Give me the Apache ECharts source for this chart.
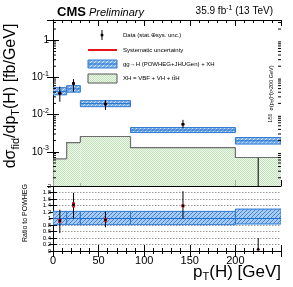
<!DOCTYPE html>
<html><head><meta charset="utf-8">
<script src="https://cdn.jsdelivr.net/npm/echarts@6/dist/echarts.min.js"></script>
<style>html,body{margin:0;padding:0;background:#fff}#c{width:293px;height:287px}</style>
</head><body><div id="c"></div>
<script>
// ---- data ----
const binEdges = [0, 15, 30, 85, 200, 250];
const dataX = [7.5, 22.5, 57.5, 142.5, 225];
const dataVal = [0.0373, 0.069, 0.0193, 0.0055, 0.0001];
const dataErrLo = [0.0222, 0.041, 0.0133, 0.0043, 0.000005];
const dataErrHi = [0.0564, 0.090, 0.0247, 0.0072, 0.00068];
const dataSysLo = [0.0345, 0.064, 0.0180, 0.0052, 0.00009];
const dataSysHi = [0.0405, 0.075, 0.0207, 0.0059, 0.00011];
const ggHCenter = [0.042, 0.049, 0.0197, 0.00384, 0.00197];
const ggHLo = [0.034, 0.040, 0.0163, 0.00329, 0.00161];
const ggHHi = [0.053, 0.060, 0.0237, 0.00448, 0.00241];
const xhVal = [0.00064, 0.00177, 0.00257, 0.0013, 0.0007];
const ratioVal = [0.93, 1.42, 0.96, 1.39, 0.05];
const ratioErrLo = [0.55, 1.0, 0.73, 1.0, 0.05];
const ratioErrHi = [1.27, 1.79, 1.21, 1.84, 0.40];
const ratioSysLo = [0.87, 1.34, 0.90, 1.34, 0.04];
const ratioSysHi = [0.99, 1.50, 1.02, 1.44, 0.06];
const ratioBandLo = [0.81, 0.81, 0.81, 0.81, 0.83];
const ratioBandHi = [1.22, 1.22, 1.22, 1.22, 1.29];
const upperTickLabels = {'0': '1', '-1': '-1', '-2': '-2', '-3': '-3'};
const xTickLabels = [0, 50, 100, 150, 200];
const ratioTickLabels = ['0', '0.2', '0.4', '0.6', '0.8', '1', '1.2', '1.4', '1.6', '1.8', '2'];

// ---- helpers ----
function makePattern(w, h, fn) {
  const c = document.createElement('canvas'); c.width = w; c.height = h;
  const ctx = c.getContext('2d');
  for (let x = 0; x < w; x++) for (let y = 0; y < h; y++) { ctx.fillStyle = fn(x, y); ctx.fillRect(x, y, 1, 1); }
  return {image: c, repeat: 'repeat'};
}
const bluePat = makePattern(4, 4, (x, y) => ((x + y) % 4 === 0 ? '#d2e4f8' : '#78ade9'));
const bluePat2 = makePattern(4, 4, (x, y) => ((x + y) % 4 === 0 ? '#3f86d8' : '#a9cbf1'));
const greenPat = makePattern(2, 2, (x, y) => ((x + y) % 2 === 0 ? '#c2e2ba' : '#eff8ed'));
const BLUE = '#2c78d4';
const FONT = 'Liberation Sans';

const minorLog = [];
for (let k = -4; k <= 0; k++) for (let m = 2; m <= 9; m++) { const v = m * Math.pow(10, k); if (v > 1.2e-4 && v < 3.5) minorLog.push([0, v]); }

const boxData = binEdges.slice(0, -1).map((e, i) => [e, binEdges[i + 1], ggHLo[i], ggHHi[i], ggHCenter[i]]);
const xhData = binEdges.slice(0, -1).map((e, i) => [e, binEdges[i + 1], xhVal[i], i > 0 ? xhVal[i - 1] : 1.2e-4]);
const ptData = dataX.map((x, i) => [x, dataVal[i], dataErrLo[i], dataErrHi[i], dataSysLo[i], dataSysHi[i]]);
const rBandData = binEdges.slice(0, -1).map((e, i) => [e, binEdges[i + 1], ratioBandLo[i], ratioBandHi[i], 1]);
const rPtData = dataX.map((x, i) => [x, ratioVal[i], ratioErrLo[i], ratioErrHi[i], ratioSysLo[i], ratioSysHi[i]]);

function boxItem(fillPat) {
  return function (params, api) {
    const a = api.coord([api.value(0), api.value(3)]);
    const b = api.coord([api.value(1), api.value(2)]);
    const c = api.coord([api.value(0), api.value(4)]);
    return {type: 'group', children: [
      {type: 'rect', shape: {x: a[0], y: a[1], width: b[0] - a[0], height: b[1] - a[1]}, style: {fill: fillPat, stroke: BLUE, lineWidth: 1}},
      {type: 'line', shape: {x1: a[0], y1: c[1], x2: b[0], y2: c[1]}, style: {stroke: '#1f6fd0', lineWidth: 1}}
    ]};
  };
}
function xhItem(params, api) {
  const cs = params.coordSys;
  const a = api.coord([api.value(0), api.value(2)]);
  const b = api.coord([api.value(1), api.value(2)]);
  const p = api.coord([api.value(0), api.value(3)]);
  const bottom = cs.y + cs.height;
  const prevY = params.dataIndex === 0 ? bottom : p[1];
  return {type: 'group', children: [
    {type: 'rect', shape: {x: a[0], y: a[1], width: b[0] - a[0], height: bottom - a[1]}, style: {fill: greenPat}},
    {type: 'polyline', shape: {points: [[a[0], prevY], [a[0], a[1]], [b[0], b[1]]]}, style: {stroke: '#6e6e6e', lineWidth: 1.2, fill: null}}
  ]};
}
function ptItem(r) {
  return function (params, api) {
    const x = api.value(0);
    const v = api.coord([x, api.value(1)]);
    const lo = api.coord([x, api.value(2)]);
    const hi = api.coord([x, api.value(3)]);
    const sl = api.coord([x, api.value(4)]);
    const sh = api.coord([x, api.value(5)]);
    return {type: 'group', children: [
      {type: 'line', shape: {x1: v[0], y1: lo[1], x2: v[0], y2: hi[1]}, style: {stroke: '#000', lineWidth: 1}},
      {type: 'rect', shape: {x: v[0] - 1.5, y: sh[1], width: 3, height: Math.max(sl[1] - sh[1], 1)}, style: {fill: '#e8141c'}},
      {type: 'circle', shape: {cx: v[0], cy: v[1], r: r}, style: {fill: '#000'}}
    ]};
  };
}
function minorItem(params, api) {
  const cs = params.coordSys;
  const y = api.coord([0, api.value(1)])[1];
  return {type: 'group', children: [
    {type: 'line', shape: {x1: cs.x, y1: y, x2: cs.x + 3, y2: y}, style: {stroke: '#000', lineWidth: 1}},
    {type: 'line', shape: {x1: cs.x + cs.width - 3, y1: y, x2: cs.x + cs.width, y2: y}, style: {stroke: '#000', lineWidth: 1}}
  ]};
}

const axLine = {show: true, lineStyle: {color: '#000', width: 1}};
function xAx(grid, pos, labels) {
  return {type: 'value', gridIndex: grid, position: pos, min: 0, max: 250, interval: 50,
    axisLine: axLine, axisTick: {show: true, inside: true, length: 6, lineStyle: {color: '#000'}},
    minorTick: {show: true, splitNumber: 5, length: 3, lineStyle: {color: '#000'}},
    splitLine: {show: false},
    axisLabel: labels ? {show: true, fontFamily: FONT, fontSize: 11, color: '#000', margin: 4, showMaxLabel: false,
      formatter: v => (xTickLabels.indexOf(v) >= 0 ? String(v) : '')} : {show: false}};
}
function logY(pos, labels) {
  return {type: 'log', gridIndex: 0, position: pos, min: 1.2e-4, max: 3.5, logBase: 10,
    axisLine: axLine, axisTick: {show: true, inside: true, length: 6, lineStyle: {color: '#000'}},
    splitLine: {show: false},
    axisLabel: labels ? {show: true, showMinLabel: false, showMaxLabel: false, margin: 4, color: '#000', fontFamily: FONT,
      formatter: v => { const e = String(Math.round(Math.log10(v))); if (!(e in upperTickLabels)) return ''; return e === '0' ? '{b|1}' : '{b|10}{s|' + upperTickLabels[e] + '}'; },
      rich: {b: {fontSize: 10, fontFamily: FONT, color: '#000'}, s: {fontSize: 7, fontFamily: FONT, color: '#000', padding: [0, 0, 7, 0]}}} : {show: false}};
}
function ratioY(pos, labels) {
  return {type: 'value', gridIndex: 1, position: pos, min: 0, max: 2, interval: 0.2,
    axisLine: axLine, axisTick: {show: true, inside: true, length: 4, lineStyle: {color: '#000'}},
    splitLine: {show: labels, lineStyle: {color: '#9a9a9a', type: [1.5, 1.5], width: 1}},
    axisLabel: labels ? {show: true, fontFamily: FONT, fontSize: 6, color: '#000', margin: 2,
      formatter: v => { const s = String(Math.round(v * 10) / 10); return ratioTickLabels.indexOf(s) >= 0 ? s : ''; }} : {show: false}};
}

const chart = echarts.init(document.getElementById('c'), null, {renderer: 'canvas'});
chart.setOption({
  animation: false,
  backgroundColor: '#fff',
  grid: [
    {left: 53, top: 20, width: 228, height: 166},
    {left: 53, top: 186, width: 228, height: 65}
  ],
  xAxis: [xAx(0, 'bottom', false), xAx(0, 'top', false), xAx(1, 'bottom', true), xAx(1, 'top', false)],
  yAxis: [logY('left', true), logY('right', false), ratioY('left', true), ratioY('right', false)],
  series: [
    {type: 'custom', xAxisIndex: 0, yAxisIndex: 0, data: xhData, encode: {x: [0, 1], y: [2, 3]}, renderItem: xhItem, clip: true, silent: true, z: 1},
    {type: 'custom', xAxisIndex: 0, yAxisIndex: 0, data: boxData, encode: {x: [0, 1], y: [2, 3, 4]}, renderItem: boxItem(bluePat), clip: true, silent: true, z: 2},
    {type: 'custom', xAxisIndex: 0, yAxisIndex: 0, data: ptData, encode: {x: 0, y: [1, 2, 3, 4, 5]}, renderItem: ptItem(1.6), clip: true, silent: true, z: 3},
    {type: 'custom', xAxisIndex: 0, yAxisIndex: 0, data: minorLog, encode: {x: 0, y: 1}, renderItem: minorItem, clip: false, silent: true, z: 4},
    {type: 'custom', xAxisIndex: 2, yAxisIndex: 2, data: rBandData, encode: {x: [0, 1], y: [2, 3, 4]}, renderItem: boxItem(bluePat2), clip: true, silent: true, z: 2},
    {type: 'custom', xAxisIndex: 2, yAxisIndex: 2, data: rPtData, encode: {x: 0, y: [1, 2, 3, 4, 5]}, renderItem: ptItem(1.4), clip: true, silent: true, z: 3}
  ],
  graphic: [
    {type: 'text', left: 57, top: 6, style: {text: 'CMS', font: 'bold 13px "Liberation Sans"', fill: '#000'}},
    {type: 'text', left: 89, top: 7, style: {text: 'Preliminary', font: 'italic 11px "Liberation Sans"', fill: '#000'}},
    {type: 'text', right: 20, top: 5, style: {rich: {a: {fontSize: 10, fontFamily: FONT}, s: {fontSize: 7, fontFamily: FONT, padding: [0, 0, 6, 0]}}, text: '{a|35.9 fb}{s|-1}{a| (13 TeV)}', fill: '#000'}},
    // y title
    {type: 'text', x: 11, y: 96, rotation: Math.PI / 2, style: {align: 'center', verticalAlign: 'middle', fill: '#000',
      text: '{a|dσ}{s|fid}{a|/dp}{s|T}{a|(H) [fb/GeV]}',
      rich: {a: {fontSize: 16, fontFamily: FONT}, s: {fontSize: 11, fontFamily: FONT, padding: [9, 0, 0, 0]}}}},
    // x title
    {type: 'text', right: 12, top: 264, style: {fill: '#000', text: '{a|p}{s|T}{a|(H) [GeV]}',
      rich: {a: {fontSize: 17, fontFamily: FONT}, s: {fontSize: 11, fontFamily: FONT, padding: [9, 0, 0, 0]}}}},
    // ratio title
    {type: 'text', x: 25, y: 213, rotation: Math.PI / 2, style: {align: 'center', verticalAlign: 'middle', fill: '#000', text: 'Ratio to POWHEG', font: '7px "Liberation Sans"'}},
    // scale annotation
    {type: 'text', x: 271, y: 94, rotation: Math.PI / 2, style: {align: 'center', verticalAlign: 'middle', fill: '#000',
      text: '{f|1/50} {a|σ(p}{s|T}{a|(H)>200 GeV)}',
      rich: {a: {fontSize: 5.5, fontFamily: FONT}, f: {fontSize: 4.5, fontFamily: FONT}, s: {fontSize: 4, fontFamily: FONT, padding: [3, 0, 0, 0]}}}},
    // legend
    {type: 'line', shape: {x1: 102, y1: 30, x2: 102, y2: 40}, style: {stroke: '#000', lineWidth: 1}},
    {type: 'circle', shape: {cx: 102, cy: 35, r: 1.5}, style: {fill: '#000'}},
    {type: 'text', x: 123, y: 35, style: {text: 'Data (stat.⊕sys. unc.)', font: '6px "Liberation Sans"', fill: '#000', verticalAlign: 'middle'}},
    {type: 'line', shape: {x1: 88, y1: 50, x2: 117, y2: 50}, style: {stroke: '#e8141c', lineWidth: 2}},
    {type: 'text', x: 123, y: 50, style: {text: 'Systematic uncertainty', font: '6px "Liberation Sans"', fill: '#000', verticalAlign: 'middle'}},
    {type: 'rect', shape: {x: 88, y: 60, width: 29, height: 8}, style: {fill: bluePat, stroke: BLUE, lineWidth: 1}},
    {type: 'line', shape: {x1: 88, y1: 64, x2: 117, y2: 64}, style: {stroke: '#1f6fd0', lineWidth: 1}},
    {type: 'text', x: 123, y: 64, style: {text: 'gg→H (POWHEG+JHUGen) + XH', font: '6px "Liberation Sans"', fill: '#000', verticalAlign: 'middle'}},
    {type: 'rect', shape: {x: 88, y: 74, width: 29, height: 9}, style: {fill: greenPat, stroke: '#555', lineWidth: 1}},
    {type: 'text', x: 123, y: 78, style: {text: 'XH = VBF + VH + tt̄H', font: '6px "Liberation Sans"', fill: '#000', verticalAlign: 'middle'}}
  ]
});
</script></body></html>
